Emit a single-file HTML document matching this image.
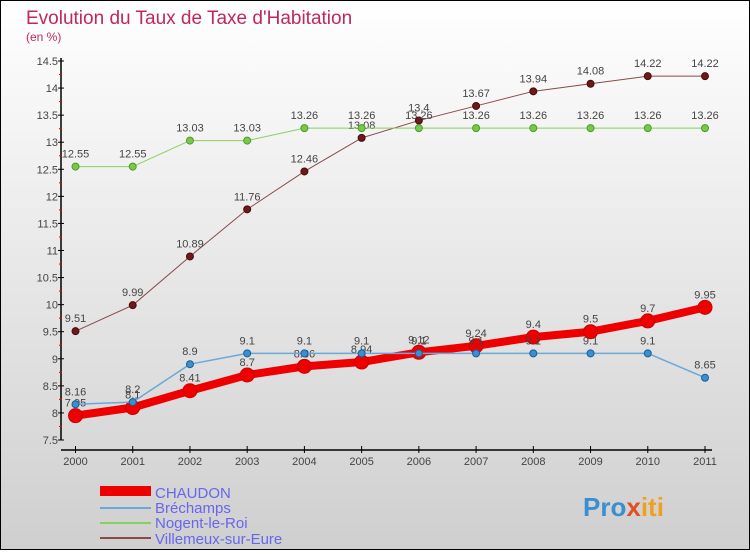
<!DOCTYPE html>
<html><head><meta charset="utf-8"><style>
body{margin:0;width:750px;height:550px;overflow:hidden;font-family:"Liberation Sans",sans-serif}
</style></head><body>
<svg id="c" width="750" height="550" xmlns="http://www.w3.org/2000/svg">
<defs><linearGradient id="bg" x1="0" y1="0" x2="0" y2="1"><stop offset="0" stop-color="#ffffff"/><stop offset="1" stop-color="#cfcfcf"/></linearGradient></defs>
<rect x="0.5" y="0.5" width="749" height="549" fill="url(#bg)" stroke="#000"/>
<text x="26" y="24" font-size="19" fill="#c0285a">Evolution du Taux de Taxe d'Habitation</text>
<text x="26" y="41" font-size="12" fill="#c0285a">(en %)</text>
<g id="axes"></g><g id="series"></g>
<g>
<rect x="100" y="486" width="51" height="10" fill="#e00"/>
<text x="155" y="498" font-size="15" fill="#6666ee">CHAUDON</text>
<line x1="100" x2="151" y1="508" y2="508" stroke="#6aa8d8" stroke-width="2"/>
<text x="155" y="513" font-size="15" fill="#6666ee">Bréchamps</text>
<line x1="100" x2="151" y1="523" y2="523" stroke="#88d060" stroke-width="2"/>
<text x="155" y="528" font-size="15" fill="#6666ee">Nogent-le-Roi</text>
<line x1="100" x2="151" y1="538" y2="538" stroke="#8a4a4a" stroke-width="2"/>
<text x="155" y="544" font-size="15" fill="#6666ee">Villemeux-sur-Eure</text>
</g>
<text x="583" y="516" font-size="26" font-weight="bold"><tspan fill="#3a8fd0">Pro</tspan><tspan fill="#e05020">x</tspan><tspan fill="#f0a020">iti</tspan></text>
</svg>
<script>
const years=[2000,2001,2002,2003,2004,2005,2006,2007,2008,2009,2010,2011];
const chaudon=[7.95,8.1,8.41,8.7,8.86,8.94,9.12,9.24,9.4,9.5,9.7,9.95];
const brechamps=[8.16,8.2,8.9,9.1,9.1,9.1,9.1,9.1,9.1,9.1,9.1,8.65];
const nogent=[12.55,12.55,13.03,13.03,13.26,13.26,13.26,13.26,13.26,13.26,13.26,13.26];
const villemeux=[9.51,9.99,10.89,11.76,12.46,13.08,13.4,13.67,13.94,14.08,14.22,14.22];
const yTicks=[7.5,8,8.5,9,9.5,10,10.5,11,11.5,12,12.5,13,13.5,14,14.5];
const NS="http://www.w3.org/2000/svg";
const X=i=>75.5+i*(705-75.5)/(years.length-1);
const Y=v=>440-(v-7.5)*(379/7);
function mk(t,a,p){const e=document.createElementNS(NS,t);for(const k in a)e.setAttribute(k,a[k]);p.appendChild(e);return e;}
const ax=document.getElementById('axes');
let yl=mk('line',{x1:61,x2:61,y1:58,y2:440,stroke:'#000','stroke-width':1.5},ax);


let xl=mk('line',{x1:61,x2:712,y1:450,y2:450,stroke:'#000','stroke-width':1.5},ax);


yTicks.forEach(v=>{
 mk('line',{x1:58,x2:64,y1:Y(v),y2:Y(v),stroke:'#000'},ax);
 if(v<14.5)mk('line',{x1:59,x2:62,y1:Y(v+0.25),y2:Y(v+0.25),stroke:'#e00'},ax);
 const t=mk('text',{x:58,y:Y(v)+4,'text-anchor':'end','font-size':11,fill:'#444'},ax);t.textContent=String(v);
 
 
});
years.forEach((y,i)=>{
 mk('line',{x1:X(i),x2:X(i),y1:446,y2:453,stroke:'#000'},ax);
 const t=mk('text',{x:X(i),y:465,'text-anchor':'middle','font-size':11,fill:'#444'},ax);t.textContent=y;
 
 
});
const sg=document.getElementById('series');
function series(vals,name,col,w,r,dot,dotStroke){
 const g=mk('g',{},sg);
 
 
 mk('polyline',{points:vals.map((v,i)=>X(i)+','+Y(v)).join(' '),fill:'none',stroke:col,'stroke-width':w,'stroke-linejoin':'round'},g);
 vals.forEach((v,i)=>{
  const c=mk('circle',{cx:X(i),cy:Y(v),r:r,fill:dot,stroke:dotStroke,'stroke-width':1},g);
  
  
  const t=mk('text',{x:X(i),y:Y(v)-9,'text-anchor':'middle','font-size':11,fill:'#444'},g);t.textContent=String(v);
 });
}
series(villemeux,'villemeux','#8a4a4a',1,3.5,'#6a1a1a','#4a0a0a');
series(nogent,'nogent','#88d060',1,3.5,'#7ac84a','#4a9a2a');
series(chaudon,'chaudon','#ee0000',8,7,'#ee0000','#cc0000');
series(brechamps,'brechamps','#6aa8d8',1.5,3.5,'#3a8fd0','#1a5f9a');
</script>
</body></html>
